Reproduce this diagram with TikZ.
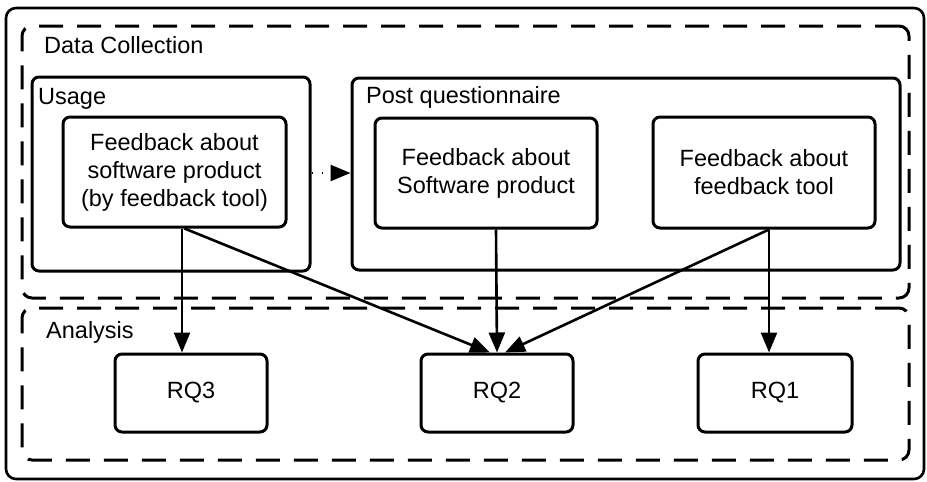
\documentclass[tikz,border=0pt]{standalone}
\usepackage{fontspec}
\setmainfont{Liberation Sans}
\usetikzlibrary{arrows.meta}
\begin{document}
\begin{tikzpicture}[x=1pt,y=-1pt,
  txt/.style={font=\fontsize{23.5}{28}\selectfont},
  box/.style={draw, line width=3pt, rounded corners=7pt, inner sep=0pt, align=center, txt},
  dbox/.style={draw, line width=3pt, rounded corners=10pt, inner sep=0pt, dash pattern=on 24pt off 14pt},
  lbl/.style={inner sep=0pt, anchor=base west, txt},
  arr/.style={line width=2.6pt, -{Triangle[length=20pt,width=16pt]}}
]
\useasboundingbox (0,0) rectangle (927,482);
% outer frame
\node[draw, line width=2.6pt, rounded corners=10pt, minimum width=918pt, minimum height=471pt, inner sep=0pt] (outer) at (465,243.5) {};
% dashed groups
\node[dbox, minimum width=887pt, minimum height=272pt] (dc) at (465.5,162) {};
\node[dbox, minimum width=887pt, minimum height=152pt] (an) at (465.5,384) {};
\node[lbl] (dclabel) at (44,53) {Data Collection};
\node[lbl] (anlabel) at (46,338) {Analysis};
% containers
\node[box, minimum width=278pt, minimum height=194pt] (usage) at (171,174) {};
\node[box, minimum width=548pt, minimum height=192pt] (post) at (626,174) {};
\node[lbl] (usagelabel) at (38,104) {Usage};
\node[lbl] (postlabel) at (366,103) {Post questionnaire};
% inner boxes
\node[box, minimum width=223pt, minimum height=110pt] (b1) at (174.5,172) {Feedback about\\software product\\(by feedback tool)};
\node[box, minimum width=222pt, minimum height=110pt] (b2) at (486,173) {Feedback about\\Software product};
\node[box, minimum width=222pt, minimum height=111pt] (b3) at (764,172.5) {Feedback about\\feedback tool};
% RQ boxes
\node[box, minimum width=152pt, minimum height=78pt] (rq3) at (191,393) {RQ3};
\node[box, minimum width=152pt, minimum height=78pt] (rq2) at (497,393) {RQ2};
\node[box, minimum width=154pt, minimum height=78pt] (rq1) at (775,393) {RQ1};
% connectors
\draw[arr] ([xshift=7.5pt]b1.south) -- ([xshift=-9pt]rq3.north);
\draw[arr] ([xshift=10pt]b1.south) -- ([xshift=-7pt]rq2.north);
\draw[arr] ([xshift=10pt]b2.south) -- (rq2.north);
\draw[arr] ([xshift=5pt]b3.south) -- ([xshift=8pt]rq2.north);
\draw[arr] ([xshift=5pt]b3.south) -- ([xshift=-6pt]rq1.north);
\draw[line width=2.6pt, dash pattern=on 1.5pt off 8.5pt, -{Triangle[length=20pt,width=16pt]}] ([yshift=1pt]usage.east) -- ([yshift=1pt]post.west);
\end{tikzpicture}
\end{document}
